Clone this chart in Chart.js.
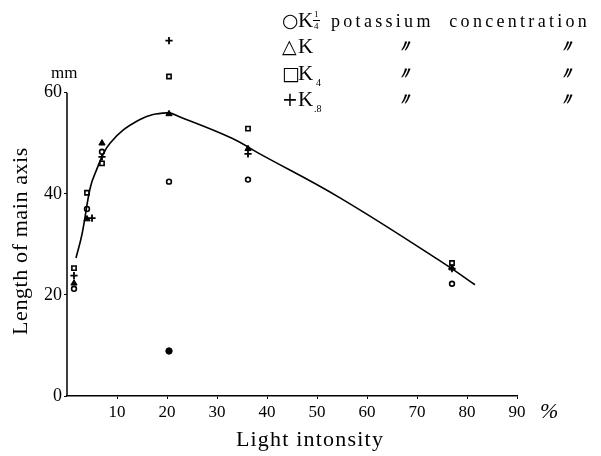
<!DOCTYPE html>
<html>
<head>
<meta charset="utf-8">
<script src="https://cdn.jsdelivr.net/npm/chart.js@4"></script>
<style>
  body { margin: 0; background: #fff; }
</style>
</head>
<body>
<canvas id="chart" width="601" height="456"></canvas>
<script>
  // light intensity (%) of each group of samples
  var lightX = [1.4, 4, 7, 20.4, 36.2, 77];
  var plusX = [1.4, 5, 7, 20.4, 36.2, 77];
  // length of main axis (mm) for each potassium concentration
  var quarterK = [21.2, 37, 48.3, 42.4, 42.8, 22.2];
  var oneK = [22.3, 35, 50, 55.8, 48.9, 25.3];
  var fourK = [25.3, 40.2, 46, 63.2, 52.9, 26.3];
  var eightK = [23.8, 35.2, 47.3, 70.3, 47.9, 25.2];
  // the lone low dot at 20 %
  var strayX = [20.4];
  var strayY = [8.9];
  // hand drawn trend line
  var curveX = [1.8, 3, 4.6, 5.6, 8.6, 14.6, 20, 22.6, 33, 38.2, 54.6, 75.6, 81.6];
  var curveY = [27.3, 32, 41, 44, 50, 54.7, 56, 55.2, 51, 48.1, 39.2, 26.1, 22];
  var xTicks = [10, 20, 30, 40, 50, 60, 70, 80, 90];
  var yTicks = [0, 20, 40, 60];

  function pts(xs, ys) {
    return xs.map(function(x, i) { return {x: x, y: ys[i]}; });
  }

  var serif = '"Liberation Serif", "DejaVu Serif", serif';

  // y axis line only runs up to 60, the plot goes a bit higher for the K8 point
  var yLine = {
    id: 'yLine',
    beforeDatasetsDraw: function(chart) {
      var ctx = chart.ctx;
      var ys = chart.scales.y;
      var x = chart.chartArea.left;
      ctx.save();
      ctx.strokeStyle = '#000';
      ctx.lineWidth = 1.5;
      ctx.beginPath();
      ctx.moveTo(x, ys.getPixelForValue(0));
      ctx.lineTo(x, ys.getPixelForValue(yTicks[yTicks.length - 1]));
      ctx.stroke();
      ctx.restore();
    }
  };

  var notes = {
    id: 'notes',
    afterDraw: function(chart) {
      var ctx = chart.ctx;
      ctx.save();
      ctx.fillStyle = '#000';
      ctx.strokeStyle = '#000';
      ctx.textBaseline = 'alphabetic';

      ctx.font = '17px ' + serif;
      ctx.fillText('mm', 51, 78);

      ctx.font = 'italic 22px ' + serif;
      ctx.fillText('%', 540, 418);

      ctx.font = '22px ' + serif;
      ctx.letterSpacing = '1.2px';
      ctx.textAlign = 'center';
      ctx.fillText('Light intonsity', 310, 446);

      ctx.save();
      ctx.translate(27, 241);
      ctx.rotate(-Math.PI / 2);
      ctx.letterSpacing = '0.6px';
      ctx.fillText('Length of main axis', 0, 0);
      ctx.restore();
      ctx.textAlign = 'left';
      ctx.letterSpacing = '0px';

      // legend block
      var rows = [27, 53, 80, 106];
      var marks = ['\u25CB', '\u25B3', '\u25A1', '+'];
      for (var i = 0; i < 4; i++) {
        ctx.font = '19px "DejaVu Sans", sans-serif';
        ctx.fillText(marks[i], 282, rows[i]);
        ctx.font = '21px ' + serif;
        ctx.fillText('K', 298, rows[i]);
      }
      // K 1/4
      ctx.font = '9px ' + serif;
      ctx.fillText('1', 314, 17);
      ctx.fillText('4', 314, 29);
      ctx.lineWidth = 1;
      ctx.beginPath();
      ctx.moveTo(313, 20.5);
      ctx.lineTo(320, 20.5);
      ctx.stroke();
      // K 4 and K 8
      ctx.font = '10px ' + serif;
      ctx.fillText('4', 316, 86);
      ctx.fillText('.8', 314, 112);

      ctx.font = '18px ' + serif;
      ctx.letterSpacing = '3.3px';
      ctx.fillText('potassium  concentration', 331, 27);
      ctx.letterSpacing = '0px';

      ctx.font = 'italic bold 17px ' + serif;
      for (var r = 1; r < 4; r++) {
        ctx.fillText('\u3003', 396, rows[r] - 1);
        ctx.fillText('\u3003', 558, rows[r] - 1);
      }
      ctx.restore();
    }
  };

  var config = {
    type: 'scatter',
    data: {
      datasets: [
        {
          label: 'trend',
          type: 'line',
          data: pts(curveX, curveY),
          borderColor: '#000',
          borderWidth: 1.6,
          pointRadius: 0,
          tension: 0.4,
          fill: false
        },
        {
          label: 'K 1/4',
          data: pts(lightX, quarterK),
          pointStyle: 'circle',
          pointRadius: 2.4,
          backgroundColor: '#fff',
          borderColor: '#000',
          borderWidth: 1.6
        },
        {
          label: 'K',
          data: pts(lightX, oneK),
          pointStyle: 'triangle',
          pointRadius: 3.6,
          backgroundColor: '#000',
          borderColor: '#000',
          borderWidth: 1
        },
        {
          label: 'K 4',
          data: pts(lightX, fourK),
          pointStyle: 'rect',
          pointRadius: 3,
          backgroundColor: '#fff',
          borderColor: '#000',
          borderWidth: 1.6
        },
        {
          label: 'K 8',
          data: pts(plusX, eightK),
          pointStyle: 'cross',
          pointRadius: 3.6,
          borderColor: '#000',
          borderWidth: 1.8
        },
        {
          label: 'stray',
          data: pts(strayX, strayY),
          pointStyle: 'circle',
          pointRadius: 3.2,
          backgroundColor: '#000',
          borderColor: '#000'
        }
      ]
    },
    options: {
      responsive: false,
      animation: false,
      layout: { padding: { top: 32, right: 84, left: 0, bottom: 0 } },
      plugins: { legend: { display: false }, tooltip: { enabled: false } },
      scales: {
        x: {
          type: 'linear',
          min: 0,
          max: 90,
          afterBuildTicks: function(scale) {
            scale.ticks = xTicks.map(function(v) { return {value: v}; });
          },
          afterFit: function(scale) { scale.height = 60; },
          grid: { drawOnChartArea: false, color: '#000', tickLength: 3 },
          border: { color: '#000', width: 1.5 },
          ticks: { color: '#000', padding: 3, font: { family: serif, size: 17 } }
        },
        y: {
          min: 0,
          max: 72,
          afterBuildTicks: function(scale) {
            scale.ticks = yTicks.map(function(v) { return {value: v}; });
          },
          afterFit: function(scale) { scale.width = 67; },
          grid: { drawOnChartArea: false, color: '#000', tickLength: 3 },
          border: { display: false },
          ticks: { color: '#000', padding: 2, font: { family: serif, size: 18 } }
        }
      }
    },
    plugins: [yLine, notes]
  };

  var lengthChart = new Chart(document.getElementById('chart'), config);
</script>
</body>
</html>
